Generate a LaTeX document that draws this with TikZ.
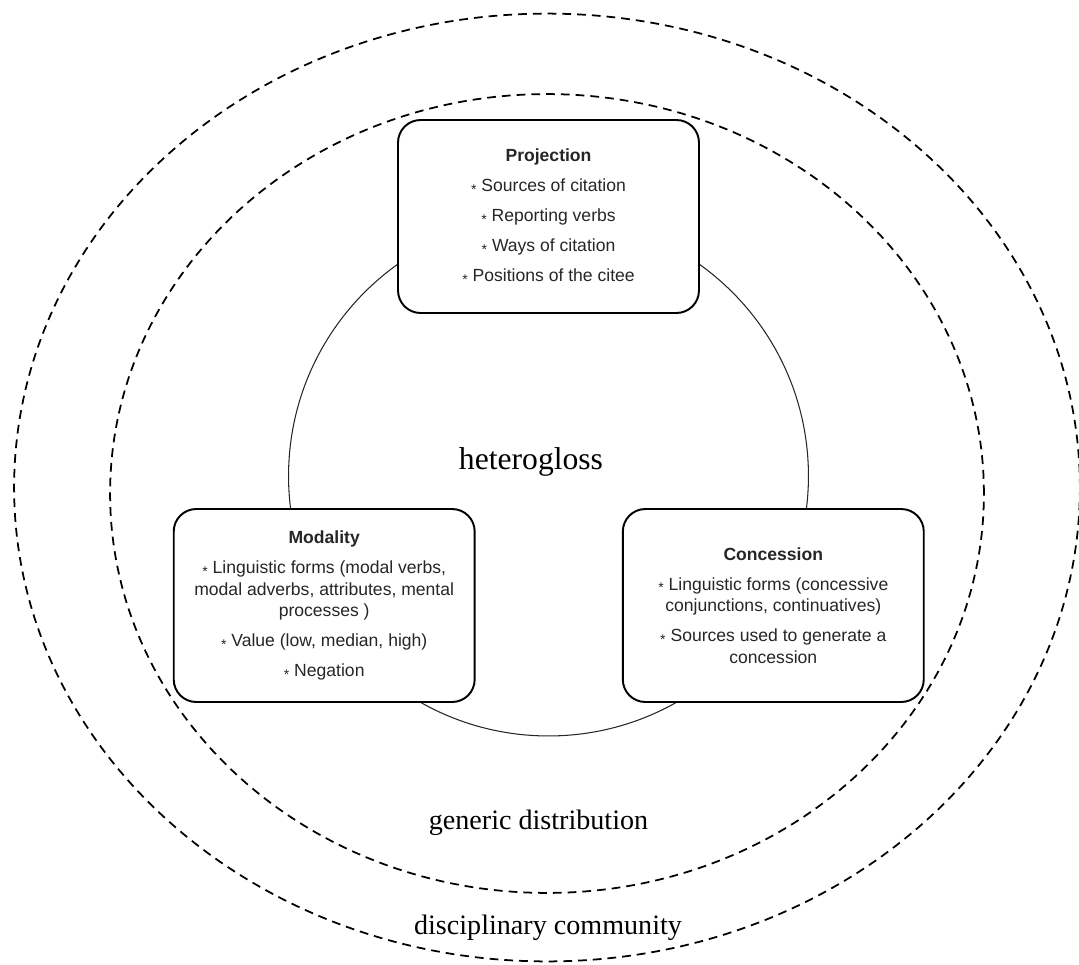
\documentclass[tikz,border=0pt]{standalone}
\usepackage{fontspec}
\setmainfont{Liberation Serif}
\setsansfont{Liberation Sans}
\begin{document}
\begin{tikzpicture}[x=0.02cm,y=-0.02cm,
B/.style={rectangle, rounded corners=0.45cm, draw=black, line width=1.1pt, fill=white, minimum width=6.02cm, minimum height=3.86cm, align=center, inner sep=0pt, text=black!85, font=\sffamily\fontsize{10}{12.3}\selectfont},
R/.style={draw=black, line width=1pt, dash pattern=on 5pt off 3.4pt},
L/.style={anchor=base, font=\fontsize{16}{18}\selectfont}]
%
%\draw[help lines, color=gray!30, dashed] (0,0) grid[step=50] (1079,964);
\useasboundingbox (0,0) rectangle (1079,964);

\def\itm{\raisebox{-1.6pt}{\footnotesize *}\ }
\def\gap{\\[4.7pt]}

% outer and inner rings
\draw[R] (547,487.5) ellipse [x radius=10.66cm, y radius=9.48cm];
\draw[R] (547,493.5) ellipse [x radius=8.74cm, y radius=7.99cm];

% the heterogloss circle
\draw[black!85, line width=0.6pt] (548.5,476) circle [radius=5.2cm];

\node[B] at (548.5,216.5) (Proj) {\textbf{Projection}\gap
\itm Sources of citation\gap
\itm Reporting verbs\gap
\itm Ways of citation\gap
\itm Positions of the citee};

\node[B] at (324.2,605.5) (Moda) {\textbf{Modality}\gap
\itm Linguistic forms (modal verbs,\\
modal adverbs, attributes, mental\\
processes )\gap
\itm Value (low, median, high)\gap
\itm Negation};

\node[B] at (773.3,605.5) (Conc) {\textbf{Concession}\gap
\itm Linguistic forms (concessive\\
conjunctions, continuatives)\gap
\itm Sources used to generate a\\
concession};

\node[L, font=\fontsize{18}{20}\selectfont] at (531,469) (Het) {heterogloss};
\node[L] at (538.5,829.3) (Gen) {generic distribution};
\node[L] at (548,934) (Disc) {disciplinary community};

\end{tikzpicture}
\end{document}
